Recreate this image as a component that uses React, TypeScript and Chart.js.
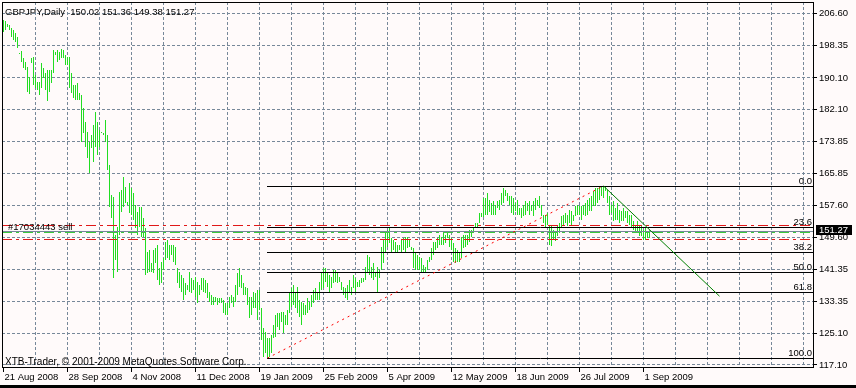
import React, { useEffect, useRef } from 'react';
import { Chart, registerables } from 'chart.js';

Chart.register(...registerables);

// ---------- data ----------
const symbolTitle = 'GBPJPY,Daily';
const lastOHLC = [150.02, 151.36, 149.38, 151.27];
const xTickLabels = ['21 Aug 2008', '28 Sep 2008', '4 Nov 2008', '11 Dec 2008', '19 Jan 2009', '25 Feb 2009', '5 Apr 2009', '12 May 2009', '18 Jun 2009', '26 Jul 2009', '1 Sep 2009'];
const barsPerLabel = 32;
const barsPerGrid = 16;
const yTickValues = [206.6, 198.35, 190.1, 182.1, 173.85, 165.85, 157.6, 149.6, 141.35, 133.35, 125.1, 117.1];
const priceMin = 116.337;
const priceMax = 209.397;
const barMin = -0.75;
const barMax = 405.25;

const highs = [
  204.82, 204.57, 203.80, 203.55, 202.79, 202.28, 201.52, 200.50, 196.43, 196.94,
  195.16, 194.14, 192.87, 190.33, 195.16, 195.41, 190.84, 189.05, 189.05, 193.89,
  192.62, 191.35, 192.11, 192.11, 192.11, 197.19, 196.68, 197.19, 196.68, 197.45,
  197.19, 195.92, 195.41, 195.41, 191.35, 188.29, 188.29, 188.80, 186.26, 185.75,
  182.45, 178.88, 176.34, 173.80, 175.58, 178.12, 181.43, 178.88, 176.85, 176.34,
  176.09, 179.39, 175.58, 167.95, 160.32, 159.81, 150.15, 152.18, 161.09, 161.60,
  164.90, 162.36, 158.54, 163.38, 162.11, 160.84, 157.78, 156.00, 157.27, 157.27,
  154.48, 151.94, 145.83, 146.34, 143.04, 146.34, 146.85, 147.61, 141.76, 143.29,
  144.31, 148.37, 148.88, 147.61, 147.61, 147.61, 147.10, 141.76, 140.74, 139.98,
  139.22, 137.95, 137.44, 140.74, 139.22, 138.71, 139.47, 138.20, 137.44, 139.22,
  139.22, 138.71, 137.95, 135.66, 134.90, 134.39, 134.39, 134.14, 134.14, 134.14,
  133.63, 132.86, 132.86, 134.39, 134.90, 134.39, 137.44, 140.49, 141.76, 139.98,
  137.95, 136.93, 136.68, 134.39, 134.39, 135.66, 135.41, 136.17, 136.17, 131.59,
  126.51, 125.49, 123.97, 123.97, 124.73, 127.27, 129.81, 130.32, 130.32, 130.58,
  130.58, 129.81, 131.08, 135.66, 136.68, 137.44, 135.41, 136.93, 133.63, 133.12,
  132.86, 132.35, 134.14, 133.12, 134.90, 136.17, 136.68, 135.66, 138.20, 140.74,
  141.76, 141.76, 140.74, 139.98, 139.47, 141.25, 141.25, 140.49, 139.47, 138.20,
  136.93, 136.68, 137.44, 138.71, 136.93, 139.98, 139.22, 138.20, 138.71, 139.22,
  139.22, 142.02, 145.07, 144.56, 142.02, 143.04, 140.74, 142.02, 141.25, 147.10,
  148.88, 150.66, 151.43, 151.94, 149.39, 148.88, 148.37, 147.61, 147.61, 148.88,
  149.39, 149.64, 149.64, 148.88, 147.10, 146.85, 145.83, 145.07, 144.56, 144.31,
  142.53, 142.02, 143.80, 144.56, 146.85, 148.37, 148.37, 149.39, 150.15, 149.64,
  150.92, 150.15, 150.66, 150.15, 149.39, 148.12, 146.85, 146.34, 145.83, 149.64,
  150.15, 150.15, 150.15, 151.43, 151.43, 152.19, 153.21, 153.21, 155.75, 155.75,
  159.56, 159.56, 160.84, 159.05, 158.29, 158.80, 157.78, 158.80, 159.05, 160.84,
  162.11, 161.60, 160.84, 160.07, 160.07, 159.56, 158.29, 159.05, 157.02, 157.02,
  157.78, 158.80, 158.29, 158.80, 157.78, 158.80, 159.56, 159.05, 160.07, 157.78,
  155.24, 155.24, 155.75, 152.45, 152.45, 151.43, 151.17, 152.45, 153.21, 154.99,
  155.24, 155.75, 155.24, 156.51, 156.26, 155.24, 157.53, 157.78, 157.53, 157.53,
  157.78, 158.29, 159.05, 159.56, 160.07, 161.34, 162.11, 162.11, 162.62, 162.62,
  162.62, 162.62, 161.60, 160.07, 157.78, 158.80, 157.02, 158.29, 156.51, 156.26,
  157.02, 156.26, 156.26, 155.24, 155.24, 153.72, 152.70, 153.72, 152.70, 152.45,
  151.43, 151.94, 151.17, 151.36,
];

const lows = [
  201.77, 202.28, 203.04, 202.28, 200.50, 199.74, 199.23, 197.70, 196.17, 194.14,
  192.62, 192.11, 186.51, 186.00, 193.89, 188.29, 187.53, 187.02, 185.75, 187.53,
  190.07, 187.02, 184.22, 186.51, 188.80, 191.35, 195.92, 194.14, 194.65, 195.16,
  195.16, 193.38, 193.38, 187.53, 186.26, 184.99, 184.48, 184.48, 184.48, 173.80,
  176.09, 172.53, 169.73, 165.92, 172.28, 168.71, 172.53, 170.50, 172.53, 176.09,
  175.58, 173.80, 166.68, 157.27, 154.48, 139.22, 143.80, 140.74, 150.15, 156.00,
  157.27, 158.29, 157.78, 155.75, 155.24, 153.97, 151.94, 150.15, 152.19, 149.64,
  149.64, 139.98, 140.49, 140.74, 140.74, 140.49, 143.04, 138.71, 137.44, 137.95,
  141.25, 143.80, 144.31, 143.80, 145.07, 143.29, 142.53, 137.95, 136.68, 135.66,
  133.63, 134.90, 136.17, 135.66, 135.41, 136.17, 134.39, 132.86, 134.90, 136.17,
  135.66, 135.41, 134.14, 133.12, 132.35, 132.35, 133.12, 132.35, 132.86, 132.86,
  130.32, 129.81, 129.81, 131.59, 132.86, 131.85, 133.12, 134.90, 136.93, 136.68,
  134.90, 134.90, 132.35, 129.05, 129.81, 131.59, 131.59, 128.54, 131.08, 123.46,
  119.13, 120.15, 118.87, 119.13, 120.15, 123.97, 124.22, 126.76, 126.00, 128.03,
  125.24, 127.27, 127.27, 130.32, 131.85, 132.35, 131.59, 130.32, 129.30, 127.27,
  129.81, 129.81, 130.32, 131.08, 131.85, 132.86, 133.63, 133.63, 133.63, 136.17,
  136.68, 138.20, 136.93, 135.66, 136.68, 137.95, 138.20, 137.95, 138.20, 136.17,
  134.90, 134.14, 133.63, 135.66, 134.90, 136.68, 135.66, 136.93, 136.93, 137.95,
  138.20, 138.71, 140.74, 139.98, 139.22, 138.71, 139.47, 135.66, 139.22, 141.25,
  143.04, 145.83, 147.10, 148.12, 145.83, 146.34, 145.83, 145.83, 146.34, 145.83,
  146.34, 145.83, 146.85, 147.10, 146.34, 141.76, 141.25, 141.25, 141.25, 140.74,
  140.74, 140.49, 141.25, 143.29, 143.80, 145.07, 146.34, 146.85, 147.61, 147.61,
  147.61, 148.12, 149.39, 147.10, 146.34, 143.29, 143.04, 143.29, 143.29, 144.31,
  146.85, 147.10, 147.61, 148.37, 149.64, 150.66, 151.94, 151.94, 153.21, 154.73,
  154.73, 155.24, 155.24, 156.00, 155.24, 155.24, 155.24, 157.02, 156.51, 157.78,
  158.29, 160.07, 158.80, 157.78, 155.75, 155.24, 156.26, 155.24, 155.24, 154.48,
  154.99, 155.24, 156.26, 155.24, 156.26, 154.99, 156.51, 157.53, 157.02, 154.99,
  153.21, 151.94, 152.70, 147.61, 147.36, 148.88, 148.63, 149.90, 150.66, 151.94,
  152.70, 153.21, 152.45, 153.21, 152.70, 153.72, 154.99, 155.24, 155.24, 153.97,
  155.24, 154.99, 155.24, 156.26, 156.26, 157.53, 157.53, 158.29, 159.05, 160.07,
  159.56, 161.34, 158.29, 155.24, 155.75, 153.72, 153.97, 153.97, 153.21, 153.72,
  153.72, 154.48, 153.21, 152.70, 151.94, 151.43, 151.17, 150.66, 149.90, 149.90,
  148.88, 148.88, 149.39, 149.38,
];

const fibLevels = [0, 23.6, 38.2, 50, 61.8, 100];
const fibHigh = 162.62;
const fibLow = 118.87;
const fibStartBar = 132;
const redTrendBars = [132, 300];
const redTrendPrices = [118.87, 162.62];
const greenTrendBars = [300, 358];
const greenTrendPrices = [162.62, 134.6];
const orderLabel = '#17034443 sell';
const orderPrice = 150.99;
const stopPrice = 152.57;
const takePrice = 149.06;
const bidPrice = 151.27;
const copyrightText = 'XTB-Trader, \u00a9 2001-2009 MetaQuotes Software Corp.';

// ---------- styles ----------
const BG = '#FFFAFA';
const GRID = '#778899';
const BAR = '#22dd22';
const FONT_FAMILY = 'Liberation Sans';
const FONT_SIZE = 9.5;
const FONT = `${FONT_SIZE}px "${FONT_FAMILY}"`;
const DASHDOT = [10, 4, 3, 4];

const mt4Plugin = {
  id: 'mt4overlay',
  beforeDraw(chart: any) {
    const { ctx, width, height } = chart;
    ctx.save();
    ctx.fillStyle = BG;
    ctx.fillRect(0, 0, width, height);
    ctx.restore();
  },
  afterDatasetsDraw(chart: any) {
    const { ctx, chartArea: a } = chart;
    const xs = chart.scales.x;
    const ys = chart.scales.y;
    ctx.save();
    ctx.beginPath();
    ctx.rect(a.left, a.top, a.right - a.left, a.bottom - a.top);
    ctx.clip();
    ctx.lineWidth = 1;
    const py = (p: number) => Math.round(ys.getPixelForValue(p)) + 0.5;
    const hline = (p: number, color: string, dash: number[], x0: number) => {
      ctx.strokeStyle = color;
      ctx.setLineDash(dash);
      ctx.beginPath();
      ctx.moveTo(x0, py(p));
      ctx.lineTo(a.right, py(p));
      ctx.stroke();
    };
    const fx = Math.floor(xs.getPixelForValue(fibStartBar));
    fibLevels.forEach((l) => hline(fibHigh - ((fibHigh - fibLow) * l) / 100, '#000000', [], fx));
    hline(bidPrice, GRID, [], a.left);
    hline(orderPrice, '#3cc83c', DASHDOT, a.left);
    hline(stopPrice, '#e01818', DASHDOT, a.left);
    hline(takePrice, '#e01818', DASHDOT, a.left);

    const seg = (bars: number[], prices: number[], color: string, dash: number[]) => {
      ctx.strokeStyle = color;
      ctx.setLineDash(dash);
      ctx.beginPath();
      ctx.moveTo(xs.getPixelForValue(bars[0]), ys.getPixelForValue(prices[0]));
      ctx.lineTo(xs.getPixelForValue(bars[1]), ys.getPixelForValue(prices[1]));
      ctx.stroke();
    };
    seg(redTrendBars, redTrendPrices, '#ff0000', [2, 4]);
    seg(greenTrendBars, greenTrendPrices, '#008000', []);

    ctx.setLineDash([]);
    ctx.font = FONT;
    ctx.fillStyle = '#000000';
    ctx.textBaseline = 'alphabetic';
    ctx.textAlign = 'right';
    fibLevels.forEach((l) => {
      const p = fibHigh - ((fibHigh - fibLow) * l) / 100;
      ctx.fillText(l.toFixed(1), a.right - 2, py(p) - 2.5);
    });
    ctx.textAlign = 'left';
    ctx.fillText(orderLabel, a.left + 6, py(orderPrice) - 2.5);
    const header = `${symbolTitle}  ${lastOHLC.map((v) => v.toFixed(2)).join(' ')}`;
    ctx.fillText(header, a.left + 3, a.top + 13);
    ctx.font = `10px "${FONT_FAMILY}"`;
    ctx.fillText(copyrightText, a.left + 3, a.bottom - 3);
    ctx.restore();
  },
  afterDraw(chart: any) {
    const { ctx, chartArea: a, width, height } = chart;
    const ys = chart.scales.y;
    ctx.save();
    ctx.strokeStyle = '#000000';
    ctx.lineWidth = 1;
    ctx.setLineDash([]);
    ctx.strokeRect(a.left + 0.5, a.top + 0.5, a.right - a.left - 1, a.bottom - a.top - 1);
    // bid price box
    const by = Math.round(ys.getPixelForValue(bidPrice));
    ctx.fillStyle = '#000000';
    ctx.fillRect(a.right + 2, by - 6, 36, 10);
    ctx.fillStyle = '#ffffff';
    ctx.font = FONT;
    ctx.textAlign = 'left';
    ctx.textBaseline = 'middle';
    ctx.fillText(bidPrice.toFixed(2), a.right + 5, by - 1);
    // window frame
    ctx.fillStyle = '#000000';
    ctx.fillRect(0, height - 3, width, 3);
    ctx.restore();
  },
};

export default function App() {
  const ref = useRef<HTMLCanvasElement>(null);
  useEffect(() => {
    const canvas = ref.current;
    if (!canvas) return;
    const data = highs.map((h, i) => ({ x: i, y: [lows[i], h] }));
    const chart = new Chart(canvas, {
      type: 'bar',
      data: {
        datasets: [
          {
            data: data as any,
            backgroundColor: BAR,
            borderWidth: 0,
            barThickness: 1,
            inflateAmount: 0,
          } as any,
        ],
      },
      options: {
        responsive: false,
        animation: false,
        devicePixelRatio: 1,
        events: [],
        layout: { padding: { left: 2, top: 2, right: 0, bottom: 0 } },
        plugins: { legend: { display: false }, tooltip: { enabled: false } },
        scales: {
          x: {
            type: 'linear',
            min: barMin,
            max: barMax,
            offset: false,
            afterBuildTicks: (s: any) => {
              const t: any[] = [];
              for (let v = 0; v <= barMax; v += barsPerGrid) t.push({ value: v });
              s.ticks = t;
            },
            afterFit: (s: any) => {
              s.height = 20;
              s.paddingLeft = 0;
              s.paddingRight = 0;
            },
            grid: {
              offset: false,
              lineWidth: 1,
              color: (c: any) => (c.tick && c.tick.value === 0 ? 'rgba(0,0,0,0)' : GRID),
              tickLength: 4,
              tickWidth: 1,
              tickColor: (c: any) =>
                c.tick && c.tick.value % barsPerLabel === 0 && c.tick.value / barsPerLabel < xTickLabels.length
                  ? '#000000'
                  : 'rgba(0,0,0,0)',
            },
            border: { display: false, dash: [3, 2] },
            ticks: {
              autoSkip: false,
              maxRotation: 0,
              minRotation: 0,
              align: 'start',
              labelOffset: 1,
              padding: 0,
              color: '#000000',
              font: { family: FONT_FAMILY, size: FONT_SIZE },
              callback: (v: any) => {
                const n = Number(v);
                if (n % barsPerLabel !== 0) return '';
                return xTickLabels[n / barsPerLabel] || '';
              },
            },
          } as any,
          y: {
            type: 'linear',
            position: 'right',
            min: priceMin,
            max: priceMax,
            afterBuildTicks: (s: any) => {
              s.ticks = yTickValues.map((v) => ({ value: v }));
            },
            afterFit: (s: any) => {
              s.width = 42;
              s.paddingTop = 0;
              s.paddingBottom = 0;
            },
            grid: { color: GRID, lineWidth: 1, tickLength: 3, tickColor: '#000000', tickWidth: 1 },
            border: { display: false, dash: [3, 2] },
            ticks: {
              padding: 2,
              color: '#000000',
              font: { family: FONT_FAMILY, size: FONT_SIZE },
              callback: (v: any) => Number(v).toFixed(2),
            },
          } as any,
        },
      },
      plugins: [mt4Plugin],
    });
    return () => chart.destroy();
  }, []);
  return (
    <div style={{ position: 'absolute', left: 0, top: 0, width: 856, height: 388 }}>
      <canvas ref={ref} width={856} height={388} style={{ display: 'block', width: 856, height: 388 }} />
    </div>
  );
}
